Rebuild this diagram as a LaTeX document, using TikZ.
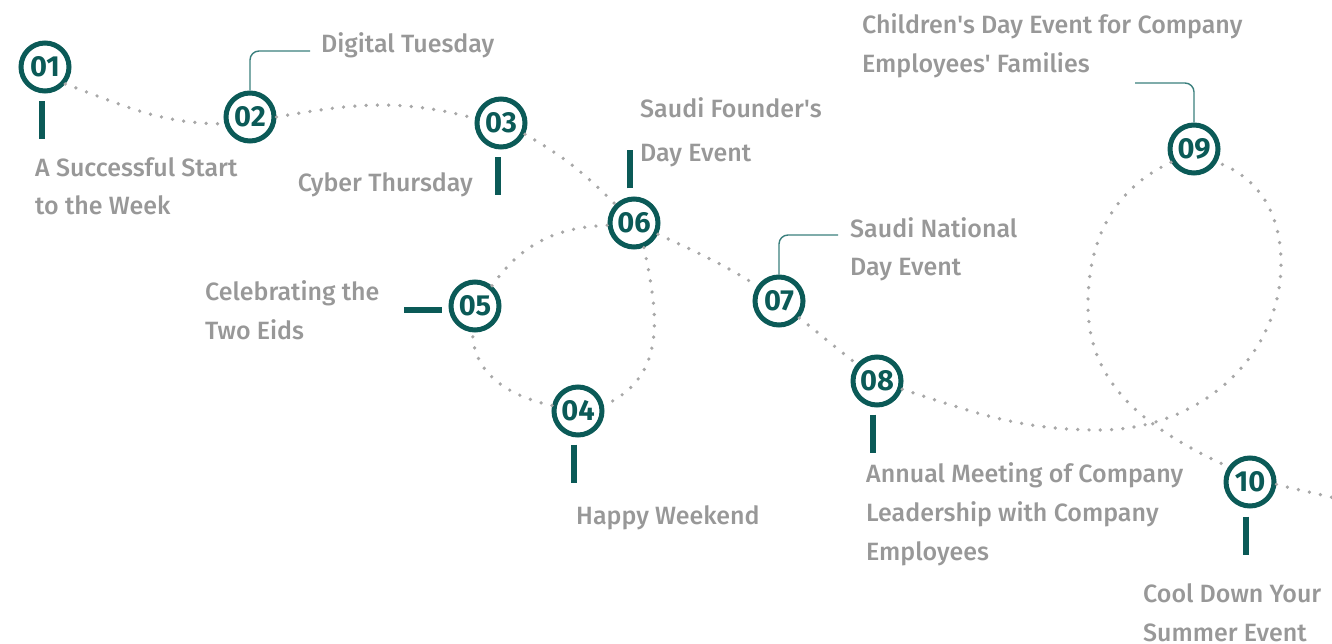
\documentclass[tikz,border=0pt]{standalone}
\usepackage{fontspec}
\setmainfont{Fira Sans}[UprightFont={* Medium},BoldFont={* Bold}]
\definecolor{sarcelle}{HTML}{0B5A57}
\definecolor{gristexte}{HTML}{989898}
\definecolor{grispoint}{HTML}{A8A8A8}
\definecolor{filvert}{HTML}{3A7F7D}

\begin{document}
\begin{tikzpicture}[x=1pt,y=1pt]
\tikzset{rond/.style={draw=sarcelle, line width=5pt, circle, minimum size=48pt, inner sep=0pt, fill=white, text=sarcelle, font=\bfseries\fontsize{29}{29}\selectfont}}
\tikzset{legende/.style={text=gristexte, align=left, inner sep=0pt, font=\fontsize{25}{39}\selectfont}}
\tikzset{pointille/.style={draw=grispoint, line width=3.7pt, line cap=round, dash pattern=on 0pt off 11.3pt}}
\tikzset{tige/.style={draw=sarcelle, line width=6pt}}
\tikzset{fil/.style={draw=filvert, line width=1.4pt, rounded corners=9pt}}
\useasboundingbox (0,0) rectangle (1332,-644);
% les ronds
\node[rond] (V01) at (45,-67) {01};
\node[rond] (V02) at (250,-117) {02};
\node[rond] (V03) at (501,-123) {03};
\node[rond] (V04) at (578,-411) {04};
\node[rond] (V05) at (475,-306) {05};
\node[rond] (V06) at (634,-223) {06};
\node[rond] (V07) at (779,-301) {07};
\node[rond] (V08) at (877,-381) {08};
\node[rond] (V09) at (1194,-149) {09};
\node[rond] (V10) at (1250,-482) {10};
% les legendes (ancre sur la derniere ligne)
\node[legende, anchor=base west] (L01) at (35,-215) {A Successful Start\\to the Week};
\node[legende, anchor=base west] (L02) at (321,-53) {Digital Tuesday};
\node[legende, anchor=base east] (L03) at (473,-192) {Cyber Thursday};
\node[legende, anchor=base west] (L04) at (576,-524) {Happy Weekend};
\node[legende, anchor=base west] (L05) at (205,-339) {Celebrating the\\Two Eids};
\node[legende, anchor=base west] (L06) at (640,-162) {Saudi Founder\textquotesingle s\\[5pt]Day Event};
\node[legende, anchor=base west] (L07) at (850,-276) {Saudi National\\Day Event};
\node[legende, anchor=base west] (L08) at (866,-560) {Annual Meeting of Company\\Leadership with Company\\Employees};
\node[legende, anchor=base west] (L09) at (862,-73) {Children\textquotesingle s Day Event for Company\\Employees\textquotesingle{} Families};
\node[legende, anchor=base west] (L10) at (1143,-641) {Cool Down Your\\Summer Event};
% points de passage
\coordinate (creux) at (1100,-430);
\coordinate (flanc) at (1281,-263);
\coordinate (ouest) at (1088,-305);
\coordinate (sortie) at (1338,-499);
\coordinate (T02) at (310,-51);
\coordinate (T07) at (838,-235);
\coordinate (T09) at (1135,-83);
% le chemin pointille
\draw[pointille] (V01.-40) to[out=-20,in=180] (V02.195);
\draw[pointille] (V02.0) to[out=10,in=165] (V03.170);
\draw[pointille] (V03.-25) to[out=-30,in=135] (V06.135);
\draw[pointille] (V06.-68) to[out=-78,in=25,looseness=1.1] (V04.12);
\draw[pointille] (V04.168) to[out=168,in=-90] (V05.-95);
\draw[pointille] (V05.50) to[out=55,in=182] (V06.185);
\draw[pointille] (V06.-25) to[out=-25,in=148] (V07.145);
\draw[pointille] (V07.-40) to[out=-38,in=142] (V08.140);
\draw[pointille] (V08.-18) to[out=-18,in=180] (creux) to[out=0,in=-90] (flanc) to[out=90,in=-20] (V09.-30);
\draw[pointille] (V09.210) to[out=205,in=90] (ouest) to[out=-90,in=155] (V10.145);
\draw[pointille] (V10.-5) to[out=-15,in=165] (sortie);
% les tiges
\draw[tige] ([xshift=-3pt,yshift=-8pt]V01.south) -- ++(0,-38);
\draw[tige] ([xshift=-3pt,yshift=-8pt]V03.south) -- ++(0,-38);
\draw[tige] ([xshift=-4pt,yshift=-7pt]V04.south) -- ++(0,-38);
\draw[tige] ([yshift=-4pt,xshift=-7pt]V05.west) -- ++(-38,0);
\draw[tige] ([xshift=-4pt,yshift=8pt]V06.north) -- ++(0,38);
\draw[tige] ([xshift=-4pt,yshift=-7pt]V08.south) -- ++(0,-38);
\draw[tige] ([xshift=-4pt,yshift=-8pt]V10.south) -- ++(0,-38);
% les fils
\draw[fil] (V02.north) |- (T02);
\draw[fil] (V07.north) |- (T07);
\draw[fil] (V09.north) |- (T09);
\end{tikzpicture}
\end{document}
